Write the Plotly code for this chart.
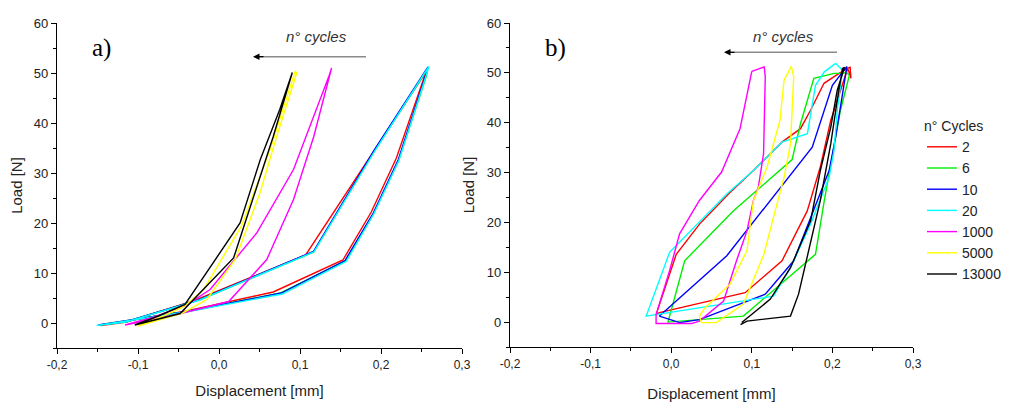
import plotly.graph_objects as go

# ---------------- data ----------------
cycles = ["2", "6", "10", "20", "1000", "5000", "13000"]
colors = ["#ff0000", "#00ee00", "#0000ff", "#00ffff", "#ff00ff", "#ffff00", "#000000"]

x_ticks = [-0.2, -0.1, 0.0, 0.1, 0.2, 0.3]
x_tick_labels = ["-0,2", "-0,1", "0,0", "0,1", "0,2", "0,3"]
y_ticks = [0, 10, 20, 30, 40, 50, 60]
y_tick_labels = ["0", "10", "20", "30", "40", "50", "60"]

# Panel a)
a_disp_2 = [-0.146, -0.04, 0.067, 0.153, 0.188, 0.219, 0.253, 0.257, 0.107, -0.03, -0.114, -0.146]
a_load_2 = [-0.5, 2.4, 6.2, 12.6, 22.2, 33.0, 49.0, 50.6, 13.6, 4.5, 0.2, -0.5]
a_disp_6 = [-0.148, -0.04, 0.076, 0.156, 0.191, 0.222, 0.256, 0.258, 0.193, 0.117, -0.023, -0.114, -0.148]
a_load_6 = [-0.4, 2.3, 6.0, 12.4, 21.9, 32.6, 49.4, 51.0, 34.7, 14.2, 4.7, 0.3, -0.4]
a_disp_10 = [-0.149, -0.04, 0.077, 0.1556, 0.1905, 0.2214, 0.255, 0.258, 0.192, 0.1165, -0.0235, -0.114, -0.149]
a_load_10 = [-0.4, 2.3, 6.0, 12.5, 22.0, 32.7, 49.5, 51.2, 34.7, 14.3, 4.7, 0.3, -0.4]
a_disp_20 = [-0.151, -0.041, 0.078, 0.157, 0.191, 0.222, 0.256, 0.259, 0.193, 0.117, -0.024, -0.115, -0.151]
a_load_20 = [-0.5, 2.2, 5.8, 12.3, 21.8, 32.5, 49.6, 51.3, 34.6, 14.2, 4.6, 0.2, -0.5]
a_disp_1000 = [-0.116, -0.05, 0.012, 0.059, 0.092, 0.117, 0.139, 0.136, 0.092, 0.0465, -0.011, -0.04, -0.08, -0.116]
a_load_1000 = [-0.4, 1.8, 4.3, 12.7, 24.7, 37.3, 51.0, 49.5, 30.7, 18.0, 6.7, 3.6, 1.2, -0.4]
a_disp_5000 = [-0.1, -0.045, -0.015, 0.02, 0.0506, 0.0712, 0.096, 0.094, 0.063, 0.028, -0.019, -0.042, -0.07, -0.1]
a_load_5000 = [-0.6, 2.0, 4.7, 12.7, 26.0, 37.3, 50.0, 50.3, 34.7, 19.5, 6.7, 3.4, 1.3, -0.6]
a_disp_13000 = [-0.104, -0.048, 0.018, 0.042, 0.067, 0.0905, 0.075, 0.051, 0.026, -0.042, -0.075, -0.104]
a_load_13000 = [-0.4, 1.9, 13.0, 24.7, 37.3, 50.1, 42.7, 32.7, 20.0, 3.7, 1.4, -0.4]

# Panel b)
b_disp_2 = [0.219, 0.2083, 0.1896, 0.1729, 0.1604, 0.1375, 0.102, 0.0729, 0.0354, 0.00625, -0.01875,
            -0.0146, 0.0917, 0.1375, 0.1688, 0.185, 0.198, 0.2104, 0.219, 0.222, 0.223, 0.219]
b_load_2 = [50.9, 49.9, 47.9, 42.5, 38.8, 36.1, 30.4, 26.0, 19.7, 13.6, 1.5,
            1.9, 5.9, 12.3, 22.3, 31.1, 40.5, 46.5, 50.9, 51.1, 48.9, 50.9]
b_disp_6 = [0.2146, 0.2021, 0.177, 0.1604, 0.15, 0.077, 0.0167, -0.004, -0.004, 0.0896, 0.179, 0.19,
            0.2, 0.21, 0.221, 0.2167, 0.2146]
b_load_6 = [49.9, 49.9, 48.9, 39.8, 32.6, 22.3, 12.3, 0.5, 0.0, 1.2, 13.6, 24.4,
            33.8, 42.5, 49.5, 50.2, 49.9]
b_disp_10 = [0.218, 0.2, 0.175, 0.069, -0.0146, 0.0104, 0.035, 0.1167, 0.152, 0.181, 0.196, 0.204, 0.2125, 0.218]
b_load_10 = [51.3, 47.5, 35.1, 13.3, 1.2, -0.1, 0.5, 5.6, 12.3, 24.4, 30.4, 37.1, 45.2, 51.3]
b_disp_20 = [0.204, 0.19, 0.179, 0.169, 0.1375, 0.102, 0.069, -0.002, -0.031, 0.127, 0.148, 0.173,
             0.196, 0.202, 0.206, 0.2125, 0.204]
b_load_20 = [51.9, 50.2, 47.5, 37.8, 36.1, 30.4, 25.7, 14.0, 1.2, 5.2, 10.9, 19.7,
             29.1, 34.4, 42.5, 50.5, 51.9]
b_disp_1000 = [0.100, 0.1154, 0.1167, 0.1146, 0.108, 0.102, 0.094, 0.081, 0.065, 0.035, 0.025, -0.01875,
               -0.01875, -0.002, 0.0104, 0.035, 0.0625, 0.0854, 0.100]
b_load_1000 = [50.3, 51.2, 49.2, 33.8, 27.0, 24.4, 18.3, 12.3, 4.2, 0.2, -0.3, -0.3,
               1.5, 10.3, 17.7, 24.4, 30.1, 38.8, 50.3]
b_disp_5000 = [0.149, 0.152, 0.148, 0.140, 0.129, 0.115, 0.0896, 0.056, 0.0375, 0.035, 0.042, 0.073,
               0.094, 0.102, 0.119, 0.135, 0.140, 0.149]
b_load_5000 = [51.3, 49.2, 35.8, 29.0, 22.3, 13.6, 3.6, -0.1, -0.1, 1.2, 2.9, 7.6,
               14.3, 24.4, 31.1, 40.5, 48.5, 51.3]
b_disp_13000 = [0.086, 0.094, 0.148, 0.158, 0.185, 0.198, 0.206, 0.2125, 0.215, 0.206, 0.198, 0.185,
                0.173, 0.148, 0.123, 0.0875]
b_load_13000 = [-0.5, 0.2, 1.2, 5.6, 24.4, 35.8, 44.5, 50.9, 51.1, 46.5, 39.1, 30.4,
                20.3, 10.9, 4.6, -0.1]

panel_a = [(a_disp_2, a_load_2), (a_disp_6, a_load_6), (a_disp_10, a_load_10), (a_disp_20, a_load_20),
           (a_disp_1000, a_load_1000), (a_disp_5000, a_load_5000), (a_disp_13000, a_load_13000)]
panel_b = [(b_disp_2, b_load_2), (b_disp_6, b_load_6), (b_disp_10, b_load_10), (b_disp_20, b_load_20),
           (b_disp_1000, b_load_1000), (b_disp_5000, b_load_5000), (b_disp_13000, b_load_13000)]

# page has an 8px body margin: figure placed at (8, 8)
OFF = 8
W, H = 1011, 395
FONT = "Liberation Sans, Arial, sans-serif"


def px(x):
    return (x - OFF) / W


def py(y):
    return 1 - (y - OFF) / H


fig = go.Figure()
for i, (xs, ys) in enumerate(panel_a):
    fig.add_trace(go.Scatter(x=xs, y=ys, mode="lines", name=cycles[i], legendgroup=cycles[i],
                             showlegend=False, line=dict(color=colors[i], width=1.4),
                             xaxis="x", yaxis="y"))
for i, (xs, ys) in enumerate(panel_b):
    fig.add_trace(go.Scatter(x=xs, y=ys, mode="lines", name=cycles[i], legendgroup=cycles[i],
                             showlegend=True, line=dict(color=colors[i], width=1.4),
                             xaxis="x2", yaxis="y2"))


def xaxis_cfg(dom, anchor, standoff):
    return dict(domain=dom, anchor=anchor, range=[-0.2, 0.3], tickmode="array",
                tickvals=x_ticks, ticktext=x_tick_labels, ticks="outside", ticklen=5,
                tickcolor="black", showline=True, linecolor="black", linewidth=1.2,
                showgrid=False, zeroline=False,
                minor=dict(tickmode="linear", tick0=-0.2, dtick=0.05, ticks="outside",
                           ticklen=3, tickcolor="black"),
                tickfont=dict(family=FONT, size=12, color="#222"),
                title=dict(text="Displacement [mm]", font=dict(family=FONT, size=15, color="#222"),
                           standoff=standoff),
                automargin=False)


def yaxis_cfg(dom, anchor):
    return dict(domain=dom, anchor=anchor, range=[-5, 60], tickmode="array",
                tickvals=y_ticks, ticktext=y_tick_labels, ticks="outside", ticklen=5,
                tickcolor="black", showline=True, linecolor="black", linewidth=1.2,
                showgrid=False, zeroline=False,
                minor=dict(tickmode="linear", tick0=0, dtick=5, ticks="outside",
                           ticklen=3, tickcolor="black"),
                tickfont=dict(family=FONT, size=13, color="#222"),
                title=dict(text="Load [N]", font=dict(family=FONT, size=15, color="#222"),
                           standoff=8),
                automargin=False)


fig.update_layout(
    width=W, height=H, margin=dict(l=0, r=0, t=0, b=0),
    paper_bgcolor="white", plot_bgcolor="white",
    xaxis=xaxis_cfg([px(57), px(462)], "y", 14),
    yaxis=yaxis_cfg([py(348), py(23)], "x"),
    xaxis2=xaxis_cfg([px(510), px(913)], "y2", 18),
    yaxis2=yaxis_cfg([py(347), py(23)], "x2"),
    legend=dict(x=px(922), y=py(113), xanchor="left", yanchor="top",
                bgcolor="rgba(0,0,0,0)", tracegroupgap=0,
                font=dict(family=FONT, size=14, color="#222"),
                title=dict(text="n° Cycles", font=dict(family=FONT, size=14, color="#222"))),
    showlegend=True,
)

annotations = [
    dict(text="a)", x=px(101), y=py(48), font=dict(family="Liberation Serif, Times New Roman, serif",
                                                   size=25, color="black")),
    dict(text="b)", x=px(555), y=py(48), font=dict(family="Liberation Serif, Times New Roman, serif",
                                                   size=25, color="black")),
    dict(text="<i>n° cycles</i>", x=px(316), y=py(37), font=dict(family=FONT, size=15, color="#333")),
    dict(text="<i>n° cycles</i>", x=px(783), y=py(36), font=dict(family=FONT, size=15, color="#333")),
]
for a in annotations:
    a.update(xref="paper", yref="paper", showarrow=False, xanchor="center", yanchor="middle")

# arrows
for (x0, x1, yy) in [(366, 253, 56.7), (837, 724, 52.3)]:
    fig.add_shape(type="line", xref="paper", yref="paper", x0=px(x0), x1=px(x1 + 6), y0=py(yy), y1=py(yy),
                  line=dict(color="#8a8a8a", width=1.5))
    annotations.append(dict(xref="paper", yref="paper", x=px(x1), y=py(yy), ax=12, ay=0, text="",
                            showarrow=True, arrowhead=2, arrowsize=1, arrowwidth=1.3,
                            arrowcolor="black"))

fig.update_layout(annotations=annotations)

fig.write_html("out.html")
